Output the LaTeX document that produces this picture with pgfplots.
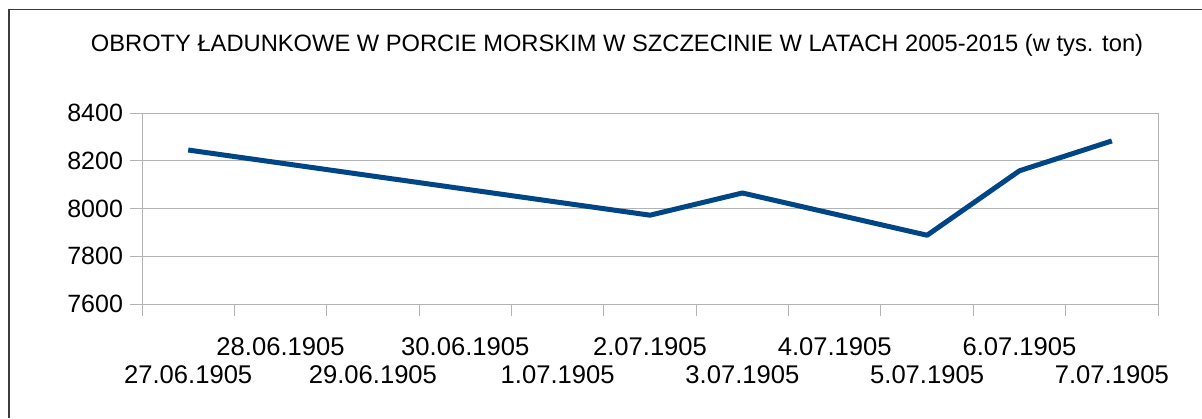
\documentclass[border=0pt]{standalone}
\usepackage{fontspec}
\setmainfont{Liberation Sans}
\usepackage{pgfplots}
\pgfplotsset{compat=1.18}
\definecolor{series}{HTML}{004586}
\definecolor{gridc}{HTML}{B3B3B3}
\definecolor{framec}{HTML}{3C3C3C}
\begin{document}
\begin{tikzpicture}
\path[use as bounding box] (0pt,0pt) rectangle (601pt,209pt);
\draw[framec,line width=0.6pt] (4.5pt,0pt) -- (4.5pt,204.25pt) -- (601pt,204.25pt);
\node[font=\fontsize{11.85}{14}\selectfont] at (308.5pt,186.5pt) {OBROTY ŁADUNKOWE W PORCIE MORSKIM W SZCZECINIE W LATACH 2005-2015 (w tys. ton)};
\begin{axis}[
  at={(71pt,57pt)}, anchor=south west,
  scale only axis, width=508pt, height=95.5pt,
  xmin=0, xmax=11, ymin=7600, ymax=8400,
  ytick={7600,7800,...,8400},
  /pgf/number format/set thousands separator={},
  /pgf/number format/assume math mode=true,
  ymajorgrids, grid style={gridc, line width=0.5pt},
  axis line style={gridc, line width=0.5pt},
  tick style={gridc, line width=0.5pt},
  tick align=outside, tick pos=left,
  major tick length=6pt, minor tick length=6pt,
  xtick={1.5,3.5,5.5,7.5,9.5},
  xticklabels={28.06.1905,30.06.1905,2.07.1905,4.07.1905,6.07.1905},
  major x tick style={draw=none},
  minor xtick={0,1,...,11},
  minor x tick style={draw=gridc, line width=0.5pt},
  extra x ticks={0.5,2.5,4.5,6.5,8.5,10.5},
  extra x tick labels={27.06.1905,29.06.1905,1.07.1905,3.07.1905,5.07.1905,7.07.1905},
  extra x tick style={major tick length=0pt, xticklabel style={yshift=-20pt}},
  xticklabel style={font=\fontsize{12.8}{14}\selectfont, yshift=-7.5pt},
  yticklabel style={font=\fontsize{12.5}{14}\selectfont},
  clip=false,
]
\addplot[series, line width=2.5pt, line join=round] coordinates {
  (0.5,8245) (5.5,7972) (6.5,8065) (8.5,7888) (9.5,8158) (10.5,8283)
};
\end{axis}
\end{tikzpicture}
\end{document}
